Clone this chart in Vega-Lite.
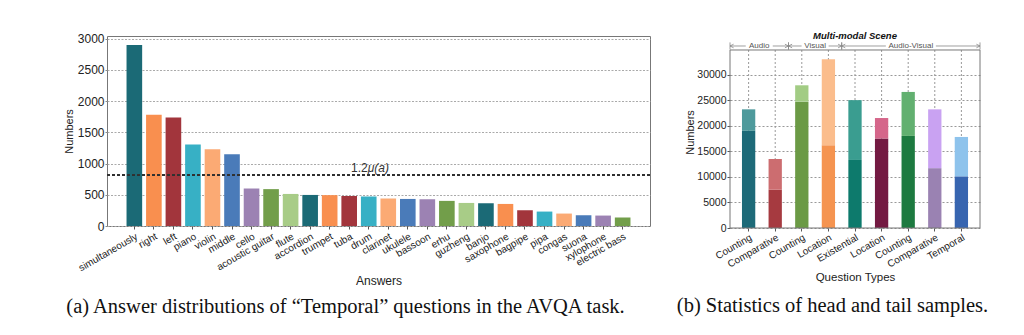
{
  "$schema": "https://vega.github.io/schema/vega-lite/v6.json",
  "background": "white",
  "padding": {"left": 62, "top": 31, "right": 5, "bottom": 5},
  "spacing": 24,
  "config": {
    "view": {"stroke": "#777", "strokeWidth": 1},
    "font": "Liberation Sans",
    "axis": {"labelFont": "Liberation Sans", "titleFont": "Liberation Sans", "labelColor": "#222", "titleColor": "#222", "titleFontWeight": "normal", "domain": false}
  },
  "datasets": {
    "answers": [
      {"answer": "simultaneously", "count": 2895},
      {"answer": "right", "count": 1780},
      {"answer": "left", "count": 1737},
      {"answer": "piano", "count": 1304},
      {"answer": "violin", "count": 1229},
      {"answer": "middle", "count": 1150},
      {"answer": "cello", "count": 600},
      {"answer": "acoustic guitar", "count": 590},
      {"answer": "flute", "count": 513},
      {"answer": "accordion", "count": 497},
      {"answer": "trumpet", "count": 494},
      {"answer": "tuba", "count": 480},
      {"answer": "drum", "count": 471},
      {"answer": "clarinet", "count": 440},
      {"answer": "ukulele", "count": 433},
      {"answer": "bassoon", "count": 428},
      {"answer": "erhu", "count": 402},
      {"answer": "guzheng", "count": 369},
      {"answer": "banjo", "count": 364},
      {"answer": "saxophone", "count": 353},
      {"answer": "bagpipe", "count": 252},
      {"answer": "pipa", "count": 231},
      {"answer": "congas", "count": 199},
      {"answer": "suona", "count": 172},
      {"answer": "xylophone", "count": 167},
      {"answer": "electric bass", "count": 135}
    ],
    "qa": [
      {"key": "Audio Counting", "head": 19000, "total": 23200},
      {"key": "Audio Comparative", "head": 7500, "total": 13500},
      {"key": "Visual Counting", "head": 24700, "total": 27900},
      {"key": "Visual Location", "head": 16200, "total": 33000},
      {"key": "Audio-Visual Existential", "head": 13300, "total": 25000},
      {"key": "Audio-Visual Location", "head": 17500, "total": 21500},
      {"key": "Audio-Visual Counting", "head": 18000, "total": 26600},
      {"key": "Audio-Visual Comparative", "head": 11700, "total": 23200},
      {"key": "Audio-Visual Temporal", "head": 10100, "total": 17800}
    ],
    "scenes": [
      {"scene": "Audio", "start": 0.3, "end": 2.5},
      {"scene": "Visual", "start": 2.5, "end": 4.5},
      {"scene": "Audio-Visual", "start": 4.5, "end": 9.7}
    ]
  },
  "hconcat": [
    {
      "width": 543,
      "height": 190,
      "data": {"name": "answers"},
      "title": {"text": "(a) Answer distributions of “Temporal” questions in the AVQA task.", "orient": "bottom", "anchor": "start", "frame": "bounds", "offset": 10, "dx": 3, "font": "Liberation Serif", "fontSize": 20.5, "fontWeight": "normal", "color": "#111", "baseline": "top"},
      "layer": [
        {
          "mark": {"type": "bar"},
          "encoding": {
            "x": {"field": "answer", "type": "nominal", "sort": null,
              "scale": {"paddingInner": 0.2, "paddingOuter": 1.3},
              "axis": {"title": "Answers", "labelAngle": -30, "labelFontSize": 10, "tickSize": 3, "tickColor": "#555", "labelPadding": 2, "grid": false, "titleFontSize": 12, "titlePadding": 3}},
            "y": {"field": "count", "type": "quantitative",
              "scale": {"domain": [0, 3040], "nice": false},
              "axis": {"title": "Numbers", "values": [0, 500, 1000, 1500, 2000, 2500, 3000], "format": "d", "labelFontSize": 12, "tickSize": 2, "tickColor": "#888", "labelPadding": 1, "grid": true, "gridColor": "#aaa", "gridDash": [2, 1.5], "gridWidth": 1, "titleFontSize": 11, "titlePadding": 3}},
            "color": {"field": "answer", "type": "nominal", "sort": null,
              "scale": {"range": ["#1b6a76", "#f98f4f", "#a2353c", "#37b0c5", "#fbaa74", "#4a7bb9", "#9c82b3", "#729e4a", "#a8cc87"]},
              "legend": null}
          }
        },
        {
          "mark": {"type": "rule", "color": "#333", "strokeDash": [3, 2], "strokeWidth": 1.2},
          "encoding": {"y": {"datum": 820, "type": "quantitative",
              "scale": {"domain": [0, 3040], "nice": false},
              "axis": {"title": "Numbers", "values": [0, 500, 1000, 1500, 2000, 2500, 3000], "format": "d", "labelFontSize": 12, "tickSize": 2, "tickColor": "#888", "labelPadding": 1, "grid": true, "gridColor": "#aaa", "gridDash": [2, 1.5], "gridWidth": 1, "titleFontSize": 11, "titlePadding": 3}}}
        },
        {
          "transform": [{"filter": "datum.answer == 'drum'"}],
          "mark": {"type": "text", "align": "right", "baseline": "middle", "dx": -1, "dy": -7, "fontSize": 12, "color": "#333", "text": "1.2"},
          "encoding": {
            "x": {"field": "answer", "type": "nominal", "sort": null,
              "scale": {"paddingInner": 0.2, "paddingOuter": 1.3},
              "axis": {"title": "Answers", "labelAngle": -30, "labelFontSize": 10, "tickSize": 3, "tickColor": "#555", "labelPadding": 2, "grid": false, "titleFontSize": 12, "titlePadding": 3}},
            "y": {"datum": 820, "type": "quantitative",
              "scale": {"domain": [0, 3040], "nice": false},
              "axis": {"title": "Numbers", "values": [0, 500, 1000, 1500, 2000, 2500, 3000], "format": "d", "labelFontSize": 12, "tickSize": 2, "tickColor": "#888", "labelPadding": 1, "grid": true, "gridColor": "#aaa", "gridDash": [2, 1.5], "gridWidth": 1, "titleFontSize": 11, "titlePadding": 3}}
          }
        },
        {
          "transform": [{"filter": "datum.answer == 'drum'"}],
          "mark": {"type": "text", "align": "left", "baseline": "middle", "dx": -1, "dy": -7, "fontSize": 12, "fontStyle": "italic", "color": "#333", "text": "μ(a)"},
          "encoding": {
            "x": {"field": "answer", "type": "nominal", "sort": null,
              "scale": {"paddingInner": 0.2, "paddingOuter": 1.3},
              "axis": {"title": "Answers", "labelAngle": -30, "labelFontSize": 10, "tickSize": 3, "tickColor": "#555", "labelPadding": 2, "grid": false, "titleFontSize": 12, "titlePadding": 3}},
            "y": {"datum": 820, "type": "quantitative",
              "scale": {"domain": [0, 3040], "nice": false},
              "axis": {"title": "Numbers", "values": [0, 500, 1000, 1500, 2000, 2500, 3000], "format": "d", "labelFontSize": 12, "tickSize": 2, "tickColor": "#888", "labelPadding": 1, "grid": true, "gridColor": "#aaa", "gridDash": [2, 1.5], "gridWidth": 1, "titleFontSize": 11, "titlePadding": 3}}
          }
        }
      ]
    },
    {
      "width": 250,
      "height": 192,
      "view": {"stroke": null},
      "title": {"text": "(b) Statistics of head and tail samples.", "orient": "bottom", "anchor": "start", "frame": "bounds", "offset": 13, "dx": -8, "font": "Liberation Serif", "fontSize": 20.5, "fontWeight": "normal", "color": "#111", "baseline": "top"},
      "layer": [
        {
          "data": {"name": "qa"},
          "layer": [
            {
              "mark": {"type": "rule", "color": "#999", "strokeDash": [2, 2], "strokeWidth": 1},
              "encoding": {
                "x": {"field": "key", "type": "nominal", "sort": null,
                  "scale": {"paddingInner": 0.5, "paddingOuter": 0.45},
                  "axis": {"title": "Question Types", "labelExpr": "split(datum.label, ' ')[1]", "labelAngle": -30, "labelFontSize": 10, "tickSize": 3, "tickColor": "#555", "labelPadding": 1, "grid": false, "titleFontSize": 11.5, "titlePadding": 2}},
                "y": {"datum": 0, "type": "quantitative",
                  "scale": {"domain": [0, 37537], "nice": false},
                  "axis": {"title": "Numbers", "values": [0, 5000, 10000, 15000, 20000, 25000, 30000], "format": "d", "labelFontSize": 10.5, "tickSize": 3, "tickColor": "#555", "labelPadding": 1, "grid": true, "gridColor": "#999", "gridDash": [2, 2], "gridWidth": 1, "titleFontSize": 11, "titlePadding": 1}},
                "y2": {"datum": 34800}
              }
            },
            {
              "mark": {"type": "bar"},
              "encoding": {
                "x": {"field": "key", "type": "nominal", "sort": null,
                  "scale": {"paddingInner": 0.5, "paddingOuter": 0.45},
                  "axis": {"title": "Question Types", "labelExpr": "split(datum.label, ' ')[1]", "labelAngle": -30, "labelFontSize": 10, "tickSize": 3, "tickColor": "#555", "labelPadding": 1, "grid": false, "titleFontSize": 11.5, "titlePadding": 2}},
                "y": {"field": "head", "type": "quantitative",
                  "scale": {"domain": [0, 37537], "nice": false},
                  "axis": {"title": "Numbers", "values": [0, 5000, 10000, 15000, 20000, 25000, 30000], "format": "d", "labelFontSize": 10.5, "tickSize": 3, "tickColor": "#555", "labelPadding": 1, "grid": true, "gridColor": "#999", "gridDash": [2, 2], "gridWidth": 1, "titleFontSize": 11, "titlePadding": 1}},
                "color": {"field": "key", "type": "nominal", "sort": null,
                  "scale": {"range": ["#1d6a78", "#a63a40", "#6b9a45", "#f59450", "#0d7a6c", "#741a42", "#1d7a40", "#9a82b2", "#3765b0"]},
                  "legend": null}
              }
            },
            {
              "mark": {"type": "bar"},
              "encoding": {
                "x": {"field": "key", "type": "nominal", "sort": null,
                  "scale": {"paddingInner": 0.5, "paddingOuter": 0.45},
                  "axis": {"title": "Question Types", "labelExpr": "split(datum.label, ' ')[1]", "labelAngle": -30, "labelFontSize": 10, "tickSize": 3, "tickColor": "#555", "labelPadding": 1, "grid": false, "titleFontSize": 11.5, "titlePadding": 2}},
                "y": {"field": "head", "type": "quantitative",
                  "scale": {"domain": [0, 37537], "nice": false},
                  "axis": {"title": "Numbers", "values": [0, 5000, 10000, 15000, 20000, 25000, 30000], "format": "d", "labelFontSize": 10.5, "tickSize": 3, "tickColor": "#555", "labelPadding": 1, "grid": true, "gridColor": "#999", "gridDash": [2, 2], "gridWidth": 1, "titleFontSize": 11, "titlePadding": 1}},
                "y2": {"field": "total"},
                "color": {"field": "key", "type": "nominal", "sort": null,
                  "scale": {"range": ["#4e9a9c", "#cc6d70", "#a2cc84", "#fbbd8c", "#3a9d90", "#d5668a", "#62b070", "#c9a2f2", "#8ec3ec"]},
                  "legend": null}
              }
            }
          ],
          "resolve": {"scale": {"color": "independent"}}
        },
        {
          "data": {"name": "scenes"},
          "transform": [
            {"fold": ["start", "end"], "as": ["side", "pos"]},
            {"joinaggregate": [{"op": "mean", "field": "pos", "as": "mid"}], "groupby": ["scene"]}
          ],
          "encoding": {
            "y": {"datum": 35582, "type": "quantitative",
              "scale": {"domain": [0, 37537], "nice": false},
              "axis": {"title": "Numbers", "values": [0, 5000, 10000, 15000, 20000, 25000, 30000], "format": "d", "labelFontSize": 10.5, "tickSize": 3, "tickColor": "#555", "labelPadding": 1, "grid": true, "gridColor": "#999", "gridDash": [2, 2], "gridWidth": 1, "titleFontSize": 11, "titlePadding": 1}}
          },
          "layer": [
            {
              "data": {"values": [{"frame": "plot"}]},
              "mark": {"type": "rect", "filled": false, "stroke": "#777", "strokeWidth": 1, "fillOpacity": 0},
              "encoding": {
                "x": {"datum": 0.3, "type": "quantitative", "scale": {"domain": [0.3, 9.7], "nice": false, "zero": false}, "axis": null},
                "x2": {"datum": 9.7},
                "y": {"datum": 0, "type": "quantitative",
                  "scale": {"domain": [0, 37537], "nice": false},
                  "axis": {"title": "Numbers", "values": [0, 5000, 10000, 15000, 20000, 25000, 30000], "format": "d", "labelFontSize": 10.5, "tickSize": 3, "tickColor": "#555", "labelPadding": 1, "grid": true, "gridColor": "#999", "gridDash": [2, 2], "gridWidth": 1, "titleFontSize": 11, "titlePadding": 1}},
                "y2": {"datum": 34800}
              }
            },
            {
              "mark": {"type": "rule", "color": "#888", "strokeWidth": 0.8,
                "x2Offset": {"expr": "(datum.side == 'start' ? -1 : 1) * (datum.scene == 'Audio-Visual' ? 25 : 13.5)"}},
              "encoding": {
                "x": {"field": "pos", "type": "quantitative", "scale": {"domain": [0.3, 9.7], "nice": false, "zero": false}, "axis": null},
                "x2": {"field": "mid"}
              }
            },
            {
              "mark": {"type": "point", "filled": false, "size": 64, "color": "#888", "strokeWidth": 0.8, "opacity": 1},
              "encoding": {
                "x": {"field": "pos", "type": "quantitative", "axis": null},
                "shape": {"field": "side", "type": "nominal",
                  "scale": {"domain": ["start", "end"], "range": ["M0,-0.9L0,0.9M0,0L0.9,-0.45M0,0L0.9,0.45", "M0,-0.9L0,0.9M0,0L-0.9,-0.45M0,0L-0.9,0.45"]},
                  "legend": null}
              }
            },
            {
              "transform": [{"filter": "datum.side == 'start'"}],
              "mark": {"type": "text", "fontSize": 8, "color": "#555", "baseline": "middle"},
              "encoding": {
                "x": {"field": "mid", "type": "quantitative", "axis": null},
                "text": {"field": "scene"}
              }
            },
            {
              "data": {"values": [{"label": "Multi-modal Scene"}]},
              "mark": {"type": "text", "fontSize": 9.5, "fontStyle": "italic", "fontWeight": "bold", "color": "#111", "baseline": "middle"},
              "encoding": {
                "x": {"datum": 5, "type": "quantitative", "axis": null},
                "y": {"datum": 37537, "type": "quantitative",
                  "scale": {"domain": [0, 37537], "nice": false},
                  "axis": {"title": "Numbers", "values": [0, 5000, 10000, 15000, 20000, 25000, 30000], "format": "d", "labelFontSize": 10.5, "tickSize": 3, "tickColor": "#555", "labelPadding": 1, "grid": true, "gridColor": "#999", "gridDash": [2, 2], "gridWidth": 1, "titleFontSize": 11, "titlePadding": 1}},
                "text": {"field": "label"}
              }
            }
          ]
        }
      ],
      "resolve": {"scale": {"x": "independent"}}
    }
  ]
}
